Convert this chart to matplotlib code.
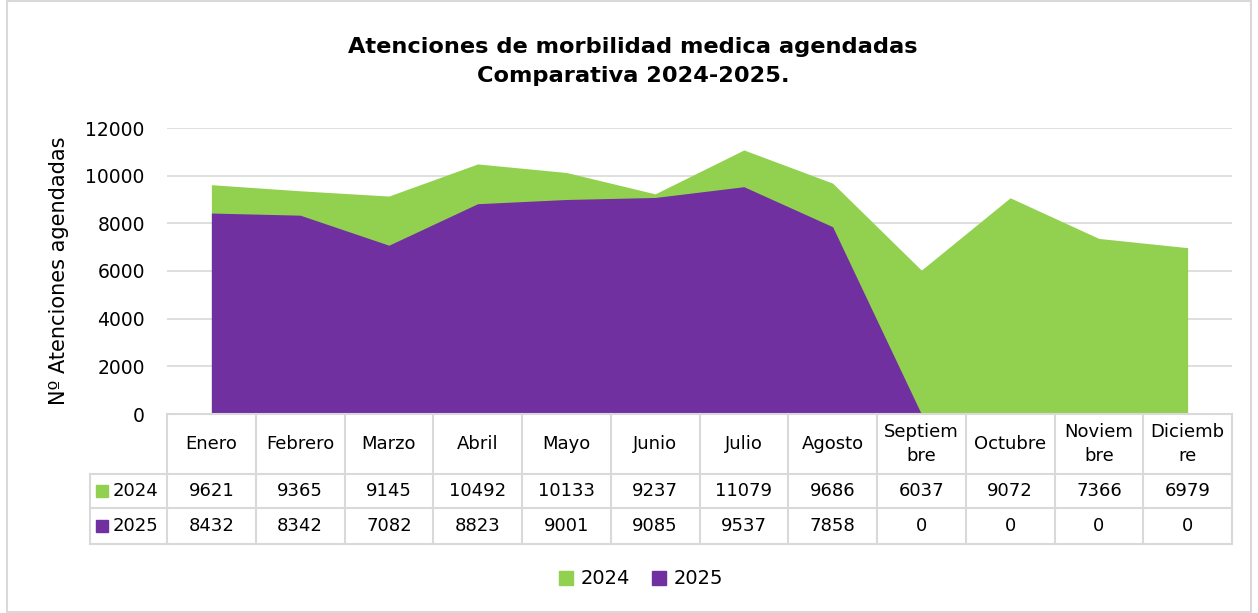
import matplotlib.pyplot as plt
import numpy as np
from matplotlib.patches import Rectangle

plt.rcParams['font.family'] = ['DejaVu Sans']

months = ['Enero', 'Febrero', 'Marzo', 'Abril', 'Mayo', 'Junio', 'Julio',
          'Agosto', 'Septiem\nbre', 'Octubre', 'Noviem\nbre', 'Diciemb\nre']
vals_2024 = [9621, 9365, 9145, 10492, 10133, 9237, 11079, 9686, 6037, 9072, 7366, 6979]
vals_2025 = [8432, 8342, 7082, 8823, 9001, 9085, 9537, 7858, 0, 0, 0, 0]
series = [('2024', vals_2024, '#92d050'), ('2025', vals_2025, '#7030a0')]

W, H = 1258, 613
fig = plt.figure(figsize=(W / 100, H / 100), dpi=100)

# pixel layout
x0, x1 = 167, 1232
y_top, y_zero = 128, 414
col_w = (x1 - x0) / len(months)

ax = fig.add_axes([x0 / W, 1 - y_zero / H, (x1 - x0) / W, (y_zero - y_top) / H])
x = np.arange(len(months))
for name, vals, col in series:
    ax.fill_between(x, 0, vals, color=col, linewidth=0, zorder=2)
ax.set_xlim(-0.5, len(months) - 0.5)
ax.set_ylim(0, 12000)
ax.set_yticks(np.arange(0, 12001, 2000))
ax.yaxis.grid(True, color='#d9d9d9', linewidth=1.2, zorder=0)
ax.set_xticks([])
for s in ax.spines.values():
    s.set_visible(False)
ax.tick_params(axis='y', length=0, labelsize=13.5, pad=16)
ax.set_ylabel('Nº Atenciones agendadas', fontsize=15, labelpad=12)

# data table
lab_x0 = 90
t_bot = 544
tax = fig.add_axes([lab_x0 / W, 1 - t_bot / H, (x1 - lab_x0) / W, (t_bot - y_zero) / H])
left_data = -0.5 - (x0 - lab_x0) / col_w
tax.set_xlim(left_data, len(months) - 0.5)
tax.set_ylim(t_bot - y_zero, 0)
tax.axis('off')
gc = '#d9d9d9'
lw = 1.5
row_y = [0, 60, 94, 130]
# horizontal lines
tax.plot([-0.5, len(months) - 0.5], [row_y[0]] * 2, color=gc, lw=lw, clip_on=False)
for ry in row_y[1:]:
    tax.plot([left_data, len(months) - 0.5], [ry] * 2, color=gc, lw=lw, clip_on=False)
# vertical lines
for i in range(len(months) + 1):
    tax.plot([i - 0.5] * 2, [0, 130], color=gc, lw=lw, clip_on=False)
tax.plot([left_data] * 2, [60, 130], color=gc, lw=lw, clip_on=False)

for i, m in enumerate(months):
    tax.text(i, 30, m, ha='center', va='center', fontsize=13, linespacing=1.4)
for r, (name, vals, col) in enumerate(series):
    yc = 77 + r * 35
    for i, v in enumerate(vals):
        tax.text(i, yc, str(v), ha='center', va='center', fontsize=13)
    tax.plot(left_data + 0.13, yc, marker='s', ms=8.5, color=col, clip_on=False)
    tax.text(left_data + 0.25, yc, name, ha='left', va='center', fontsize=13)

# legend
lax = fig.add_axes([0, 0, 1, 1])
lax.set_xlim(0, W)
lax.set_ylim(H, 0)
lax.axis('off')
handles = [plt.Line2D([], [], marker='s', ls='', ms=10.5, color=c) for _, _, c in series]
fig.legend(handles, [n for n, _, _ in series], loc='center', bbox_to_anchor=(640 / W, 1 - 579 / H),
           ncol=2, frameon=False, fontsize=14, handletextpad=0.25, columnspacing=1.0,
           handlelength=1.0)

# title
fig.text(633 / W, 1 - 61.5 / H, 'Atenciones de morbilidad medica agendadas\nComparativa 2024-2025.',
         ha='center', va='center', fontsize=16.2, fontweight='bold', linespacing=1.6)

# figure border
lax.add_patch(Rectangle((7, 1), W - 14, H - 2, fill=False, edgecolor=gc, lw=1.5))

fig.savefig('out.png', dpi=100)
